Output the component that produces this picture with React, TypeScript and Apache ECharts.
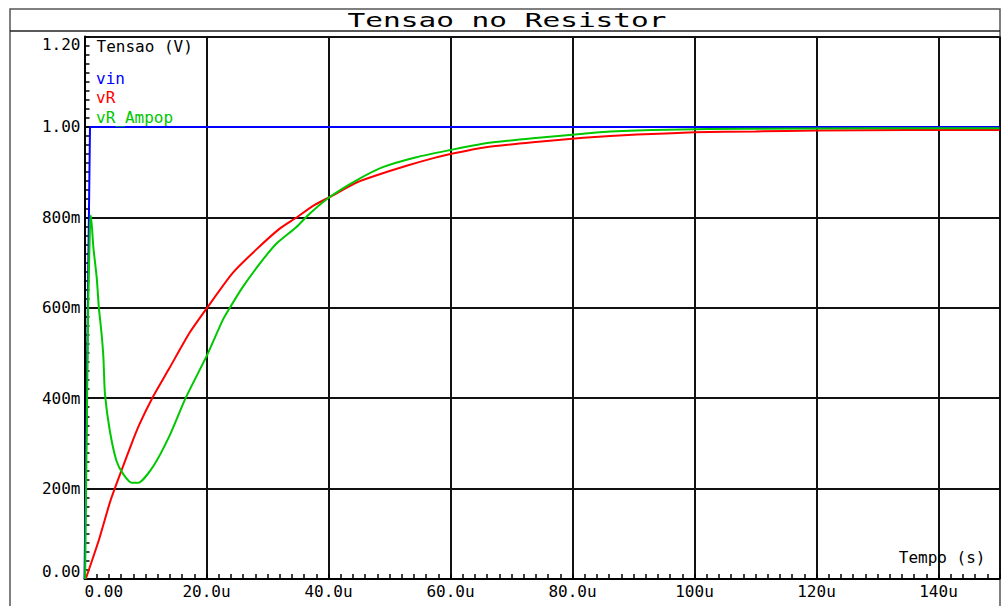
import React, { useEffect, useRef } from "react";
import * as echarts from "echarts";

const titleText = "Tensao no Resistor";
const yAxisName = "Tensao (V)";
const xAxisName = "Tempo (s)";
const xTickLabels = ["0.00", "20.0u", "40.0u", "60.0u", "80.0u", "100u", "120u", "140u"];
const yTickLabels = ["0.00", "200m", "400m", "600m", "800m", "1.00", "1.20"];
const seriesNames = ["vin", "vR", "vR_Ampop"];
const seriesColors = ["#0000ff", "#ff0000", "#00c800"];

// time in microseconds, values in volts
const vinTime = [0, 0.1, 0.9, 150];
const vinValues = [0, 0, 1, 1];

const vRTime = [0.2, 2.4, 4.3, 7.6, 9.0, 11.1, 13.9, 17.2, 20, 24.3, 28.1, 32, 34.7, 37.4, 40.2, 44.6, 47.9, 52.8, 57.2, 60, 65.3, 73.5, 81.8, 90.6, 100, 110, 120, 135, 150];
const vRValues = [0, 0.088, 0.175, 0.295, 0.342, 0.4, 0.466, 0.544, 0.598, 0.677, 0.728, 0.775, 0.799, 0.825, 0.845, 0.877, 0.893, 0.914, 0.931, 0.94, 0.954, 0.966, 0.976, 0.983, 0.988, 0.99, 0.992, 0.993, 0.993];

const vRAmpopTime = [0.1, 0.6, 0.9, 1.05, 1.45, 2.0, 2.35, 2.8, 3.1, 3.35, 4.15, 5.25, 6.35, 7.75, 8.85, 11.3, 14.05, 16.5, 20.05, 22.6, 23.7, 25.9, 28.7, 31.4, 34.7, 36.9, 40.2, 44.6, 48.9, 54.4, 60, 65.3, 73.5, 81.8, 86.2, 95.6, 109, 130, 150];
const vRAmpopValues = [0, 0.6, 0.78, 0.804, 0.734, 0.667, 0.601, 0.542, 0.49, 0.41, 0.328, 0.261, 0.232, 0.213, 0.213, 0.25, 0.32, 0.398, 0.494, 0.571, 0.597, 0.645, 0.697, 0.741, 0.778, 0.808, 0.845, 0.882, 0.911, 0.933, 0.949, 0.963, 0.975, 0.985, 0.99, 0.994, 0.996, 0.997, 0.997];

const FONT = "'DejaVu Sans Mono', 'Liberation Mono', monospace";

function zip(t: number[], v: number[]) {
  return t.map((x, i) => [x, v[i]]);
}

export default function App() {
  const ref = useRef<HTMLDivElement>(null);
  useEffect(() => {
    document.body.style.margin = "0";
    if (!ref.current) return;
    const chart = echarts.init(ref.current, undefined, { renderer: "svg" });
    const seriesData = [zip(vinTime, vinValues), zip(vRTime, vRValues), zip(vRAmpopTime, vRAmpopValues)];
    chart.setOption({
      animation: false,
      backgroundColor: "#ffffff",
      grid: { left: 84.5, right: 5.5, top: 36.5, bottom: 27, show: false },
      legend: {
        orient: "vertical",
        left: 86,
        top: 63,
        icon: "none",
        itemWidth: 0,
        itemHeight: 20,
        itemGap: 1.5,
        selectedMode: false,
        textStyle: { fontFamily: FONT, fontSize: 16 },
        data: seriesNames.map((n, i) => ({ name: n, textStyle: { color: seriesColors[i] } })),
      },
      graphic: [
        {
          type: "rect",
          shape: { x: 10, y: 9, width: 990, height: 620 },
          style: { fill: "none", stroke: "#555", lineWidth: 1.5 },
          silent: true,
        },
        {
          type: "line",
          shape: { x1: 10, y1: 31, x2: 1000, y2: 31 },
          style: { stroke: "#222", lineWidth: 1.5 },
          silent: true,
        },
        {
          type: "text",
          x: 507,
          y: 20,
          scaleX: 1.55,
          style: {
            text: titleText,
            fontFamily: FONT,
            fontSize: 19,
            fill: "#000",
            textAlign: "center",
            textVerticalAlign: "middle",
          },
          silent: true,
        },
      ],
      xAxis: [
        {
          type: "value",
          min: 0,
          max: 150,
          interval: 20,
          name: xAxisName,
          nameLocation: "end",
          nameGap: -14,
          nameTextStyle: { fontFamily: FONT, fontSize: 16, color: "#000", align: "right", verticalAlign: "bottom", padding: [0, 0, 14, 0] },
          axisLine: { show: true, onZero: false, lineStyle: { color: "#000", width: 2 } },
          axisTick: { show: false },
          axisLabel: {
            color: "#000",
            fontFamily: FONT,
            fontSize: 16,
            margin: 4,
            showMaxLabel: false,
            alignMinLabel: "left",
            formatter: (v: number) => {
              const i = Math.round(v / 20);
              return Math.abs(v - i * 20) < 1e-6 && xTickLabels[i] ? xTickLabels[i] : "";
            },
          },
          splitLine: { show: true, lineStyle: { color: "#111", width: 2 } },
        },
        {
          type: "value",
          min: 0,
          max: 150,
          interval: 2,
          position: "bottom",
          axisLine: { show: false },
          axisTick: { show: true, inside: true, length: 5, lineStyle: { color: "#000", width: 1.5 } },
          axisLabel: { show: false },
          splitLine: { show: false },
        },
      ],
      yAxis: {
        type: "value",
        min: 0,
        max: 1.2,
        interval: 0.2,
        name: yAxisName,
        nameLocation: "end",
        nameGap: -18,
        nameTextStyle: { fontFamily: FONT, fontSize: 16, color: "#000", align: "left", verticalAlign: "bottom", padding: [0, 0, 0, 12] },
        axisLine: { show: true, onZero: false, lineStyle: { color: "#000", width: 2 } },
        axisTick: { show: true, inside: true, length: 5, lineStyle: { color: "#000", width: 1.5 } },
        minorTick: { show: true, splitNumber: 10, length: 5, lineStyle: { color: "#000", width: 1.5 } },
        axisLabel: {
          color: "#000",
          fontFamily: FONT,
          fontSize: 16,
          margin: 4,
          verticalAlignMinLabel: "bottom",
          verticalAlignMaxLabel: "top",
          formatter: (v: number) => yTickLabels[Math.round(v / 0.2)] ?? "",
        },
        splitLine: { show: true, lineStyle: { color: "#111", width: 2 } },
      },
      series: seriesNames.map((n, i) => ({
        name: n,
        type: "line",
        xAxisIndex: 0,
        data: seriesData[i],
        showSymbol: false,
        symbol: "none",
        smooth: i === 0 ? false : 0.2,
        color: seriesColors[i],
        lineStyle: { color: seriesColors[i], width: 2 },
        z: 3 + i,
      })),
    });
    return () => chart.dispose();
  }, []);
  return <div ref={ref} style={{ width: 1005, height: 606 }} />;
}
